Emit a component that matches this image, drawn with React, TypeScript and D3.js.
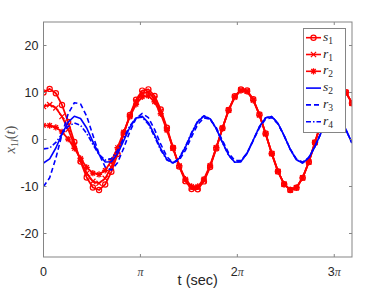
import * as React from 'react';
import * as d3 from 'd3';

// sample times (sec)
const T = [
  0, 0.2, 0.4, 0.6, 0.8, 1.0, 1.2, 1.4, 1.6, 1.8, 2.0, 2.2, 2.4, 2.6, 2.8, 3.0, 3.2, 3.4, 3.6, 3.8,
  4.0, 4.2, 4.4, 4.6, 4.8, 5.0, 5.2, 5.4, 5.6, 5.8, 6.0, 6.2, 6.4, 6.6, 6.8, 7.0, 7.2, 7.4, 7.6, 7.8,
  8.0, 8.2, 8.4, 8.6, 8.8, 9.0, 9.2, 9.4, 9.6, 9.8, 10.0,
];

const S1 = [
  10.0, 10.77, 9.84, 7.35, 3.71, -0.52, -4.67, -8.08, -10.22, -10.74, -9.56, -6.88, -3.11, 1.15, 5.23, 8.48, 10.4,
  10.67, 9.26, 6.39, 2.5, -1.77, -5.77, -8.86, -10.54, -10.57, -8.92, -5.87, -1.89, 2.39, 6.29, 9.2, 10.65, 10.43,
  8.55, 5.33, 1.27, -3.0, -6.79, -9.51, -10.73, -10.25, -8.16, -4.78, -0.64, 3.6, 7.27, 9.79, 10.77, 10.04, 7.73,
];
const R1 = [
  7.0, 7.42, 6.72, 4.89, 2.15, -1.11, -4.4, -7.16, -8.91, -9.32, -8.27, -5.89, -2.51, 1.34, 5.07, 8.06, 9.83,
  10.07, 8.73, 5.99, 2.27, -1.83, -5.68, -8.67, -10.3, -10.32, -8.7, -5.71, -1.8, 2.4, 6.25, 9.11, 10.55, 10.33,
  8.46, 5.27, 1.24, -3.0, -6.79, -9.51, -10.73, -10.25, -8.16, -4.78, -0.64, 3.6, 7.27, 9.79, 10.77, 10.04, 7.73,
];
const R2 = [
  3.0, 2.97, 2.58, 1.63, 0.1, -1.89, -4.03, -5.92, -7.17, -7.44, -6.56, -4.58, -1.72, 1.59, 4.85, 7.49, 9.08,
  9.28, 8.03, 5.47, 1.97, -1.9, -5.56, -8.42, -9.97, -9.99, -8.41, -5.5, -1.69, 2.42, 6.19, 9.0, 10.41, 10.19,
  8.34, 5.19, 1.2, -3.0, -6.79, -9.51, -10.73, -10.25, -8.16, -4.78, -0.64, 3.6, 7.27, 9.79, 10.77, 10.04, 7.73,
];
const S2 = [
  -5.0, -4.13, -1.81, 1.14, 3.69, 4.95, 4.48, 2.45, -0.44, -3.17, -4.8, -4.75, -3.04, -0.27, 2.6, 4.56, 4.92,
  3.57, 0.97, -1.97, -4.22, -5.0, -4.03, -1.65, 1.3, 3.8, 4.97, 4.41, 2.3, -0.6, -3.3, -4.85, -4.7, -2.91,
  -0.1, 2.74, 4.62, 4.89, 3.45, 0.81, -2.12, -4.31, -4.99, -3.93, -1.5, 1.46, 3.91, 4.99, 4.33, 2.15, -0.77,
];
const R3 = [
  -10.0, -8.14, -3.97, 1.1, 5.46, 7.82, 7.57, 4.96, 0.94, -3.09, -5.85, -6.5, -4.95, -1.84, 1.71, 4.48, 5.54,
  4.64, 2.15, -0.99, -3.65, -4.93, -4.4, -2.3, 0.57, 3.19, 4.61, 4.35, 2.52, -0.2, -2.85, -4.47, -4.47, -2.87,
  -0.23, 2.5, 4.34, 4.65, 3.3, 0.78, -2.04, -4.16, -4.82, -3.78, -1.41, 1.46, 3.91, 4.99, 4.33, 2.15, -0.77,
];
const R4 = [
  -2.0, -1.82, -0.62, 1.16, 2.78, 3.54, 3.02, 1.31, -1.04, -3.2, -4.38, -4.07, -2.33, 0.29, 2.9, 4.59, 4.72,
  3.24, 0.62, -2.25, -4.37, -5.02, -3.94, -1.49, 1.47, 3.94, 5.05, 4.42, 2.26, -0.67, -3.38, -4.85, -4.7, -2.91,
  -0.1, 2.74, 4.62, 4.89, 3.45, 0.81, -2.12, -4.31, -4.99, -3.93, -1.5, 1.46, 3.91, 4.99, 4.33, 2.15, -0.77,
];

const Y_TICKS = [-20, -10, 0, 10, 20];
const X_TICKS = [0, Math.PI, 2 * Math.PI, 3 * Math.PI];
const X_TICK_COEF = ['0', '', '2', '3'];

const RED = '#ff0000';
const BLUE = '#0000ff';

type Marker = 'o' | 'x' | '*' | null;

const SERIES: { sym: string; sub: string; values: number[]; color: string; dash: string | null; marker: Marker }[] = [
  { sym: 's', sub: '1', values: S1, color: RED, dash: null, marker: 'o' },
  { sym: 'r', sub: '1', values: R1, color: RED, dash: null, marker: 'x' },
  { sym: 'r', sub: '2', values: R2, color: RED, dash: null, marker: '*' },
  { sym: 's', sub: '2', values: S2, color: BLUE, dash: null, marker: null },
  { sym: 'r', sub: '3', values: R3, color: BLUE, dash: '5,3', marker: null },
  { sym: 'r', sub: '4', values: R4, color: BLUE, dash: '5,2,1.5,2', marker: null },
];

const W = 382;
const H = 297;
const M = { left: 43.5, right: 352, top: 22, bottom: 257 };
const AXIS = '#858585';
const TXT = '#262626';
const SANS = '"Liberation Sans", Arial, Helvetica, sans-serif';
const SERIF = '"Liberation Serif", "DejaVu Serif", serif';

function MarkerGlyph({ kind, x, y, color }: { kind: Marker; x: number; y: number; color: string }) {
  if (kind === 'o') {
    return <circle cx={x} cy={y} r={2.6} fill="none" stroke={color} strokeWidth={1.2} />;
  }
  if (kind === 'x') {
    const s = 2.6;
    return (
      <path
        d={`M${x - s},${y - s}L${x + s},${y + s}M${x - s},${y + s}L${x + s},${y - s}`}
        stroke={color}
        strokeWidth={1.2}
      />
    );
  }
  if (kind === '*') {
    const s = 3.1;
    const d = s * 0.72;
    return (
      <path
        d={`M${x - s},${y}L${x + s},${y}M${x},${y - s}L${x},${y + s}M${x - d},${y - d}L${x + d},${y + d}M${x - d},${y + d}L${x + d},${y - d}`}
        stroke={color}
        strokeWidth={1.3}
      />
    );
  }
  return null;
}

export default function App() {
  const x = d3.scaleLinear().domain([0, 10]).range([M.left, M.right]);
  const y = d3.scaleLinear().domain([-25, 25]).range([M.bottom, M.top]);

  const line = d3
    .line<number>()
    .x((_, i) => x(T[i]))
    .y((d) => y(d));

  const legX = 303.5;
  const legY = 28.5;
  const legW = 42;
  const legH = 104;
  const rowH = 16.8;

  return (
    <svg
      width={W}
      height={H}
      viewBox={`0 0 ${W} ${H}`}
      style={{ position: 'absolute', left: 0, top: 0, background: '#fff' }}
    >
      <defs>
        <clipPath id="plot">
          <rect x={M.left} y={M.top} width={M.right - M.left} height={M.bottom - M.top} />
        </clipPath>
      </defs>

      <rect x={0} y={0} width={W} height={H} fill="#fff" />

      {/* series */}
      <g clipPath="url(#plot)">
        {SERIES.map((s, si) => (
          <g key={si}>
            <path
              d={line(s.values) || ''}
              fill="none"
              stroke={s.color}
              strokeWidth={s.color === RED ? 1.8 : 1.6}
              strokeDasharray={s.dash || undefined}
              strokeLinejoin="round"
            />
            {s.marker &&
              s.values.map((v, i) => <MarkerGlyph key={i} kind={s.marker} x={x(T[i])} y={y(v)} color={s.color} />)}
          </g>
        ))}
      </g>

      {/* box */}
      <rect
        x={M.left}
        y={M.top}
        width={M.right - M.left}
        height={M.bottom - M.top}
        fill="none"
        stroke={AXIS}
        strokeWidth={1}
      />

      {/* y ticks */}
      {Y_TICKS.map((t) => (
        <g key={`y${t}`}>
          <line x1={M.left} x2={M.left + 3} y1={y(t)} y2={y(t)} stroke={AXIS} />
          <line x1={M.right - 3} x2={M.right} y1={y(t)} y2={y(t)} stroke={AXIS} />
          <text
            x={M.left - 5}
            y={y(t)}
            dy="0.36em"
            textAnchor="end"
            fontFamily={SANS}
            fontSize={12.5}
            fill={TXT}
          >
            {t}
          </text>
        </g>
      ))}

      {/* x ticks */}
      {X_TICKS.map((t, i) => (
        <g key={`x${i}`}>
          <line x1={x(t)} x2={x(t)} y1={M.bottom} y2={M.bottom - 3} stroke={AXIS} />
          <line x1={x(t)} x2={x(t)} y1={M.top} y2={M.top + 3} stroke={AXIS} />
          <text x={x(t)} y={276} textAnchor="middle" fontFamily={SANS} fontSize={12.5} fill={TXT}>
            {i === 0 ? (
              '0'
            ) : (
              <>
                {X_TICK_COEF[i] && <tspan>{X_TICK_COEF[i]}</tspan>}
                <tspan fontFamily={SERIF} fontStyle="italic" fontSize={12} fill="#444">
                  π
                </tspan>
              </>
            )}
          </text>
        </g>
      ))}

      {/* axis labels */}
      <text x={(M.left + M.right) / 2} y={285} textAnchor="middle" fontFamily={SANS} fontSize={14.5} fill={TXT}>
        t (sec)
      </text>
      <text
        transform={`translate(15,${(M.top + M.bottom) / 2}) rotate(-90)`}
        textAnchor="middle"
        fontFamily={SERIF}
        fontSize={14.5}
        fill="#555"
      >
        <tspan fontStyle="italic">x</tspan>
        <tspan fontSize={10} dy={3}>
          1
        </tspan>
        <tspan fontSize={10} fontStyle="italic">
          l
        </tspan>
        <tspan dy={-3}>(</tspan>
        <tspan fontStyle="italic">t</tspan>
        <tspan>)</tspan>
      </text>

      {/* legend */}
      <rect x={legX} y={legY} width={legW} height={legH} fill="#fff" stroke={AXIS} strokeWidth={1} />
      {SERIES.map((s, i) => {
        const ry = legY + 9.2 + i * rowH;
        return (
          <g key={`leg${i}`}>
            <line
              x1={legX + 2.5}
              x2={legX + 17.5}
              y1={ry}
              y2={ry}
              stroke={s.color}
              strokeWidth={1.6}
              strokeDasharray={s.dash || undefined}
            />
            {s.marker && <MarkerGlyph kind={s.marker} x={legX + 10} y={ry} color={s.color} />}
            <text x={legX + 19.5} y={ry + 3} fontFamily={SERIF} fontSize={13.5} fill={TXT}>
              <tspan fontStyle="italic">{s.sym}</tspan>
              <tspan fontSize={9.5} dy={3}>
                {s.sub}
              </tspan>
            </text>
          </g>
        );
      })}
    </svg>
  );
}
